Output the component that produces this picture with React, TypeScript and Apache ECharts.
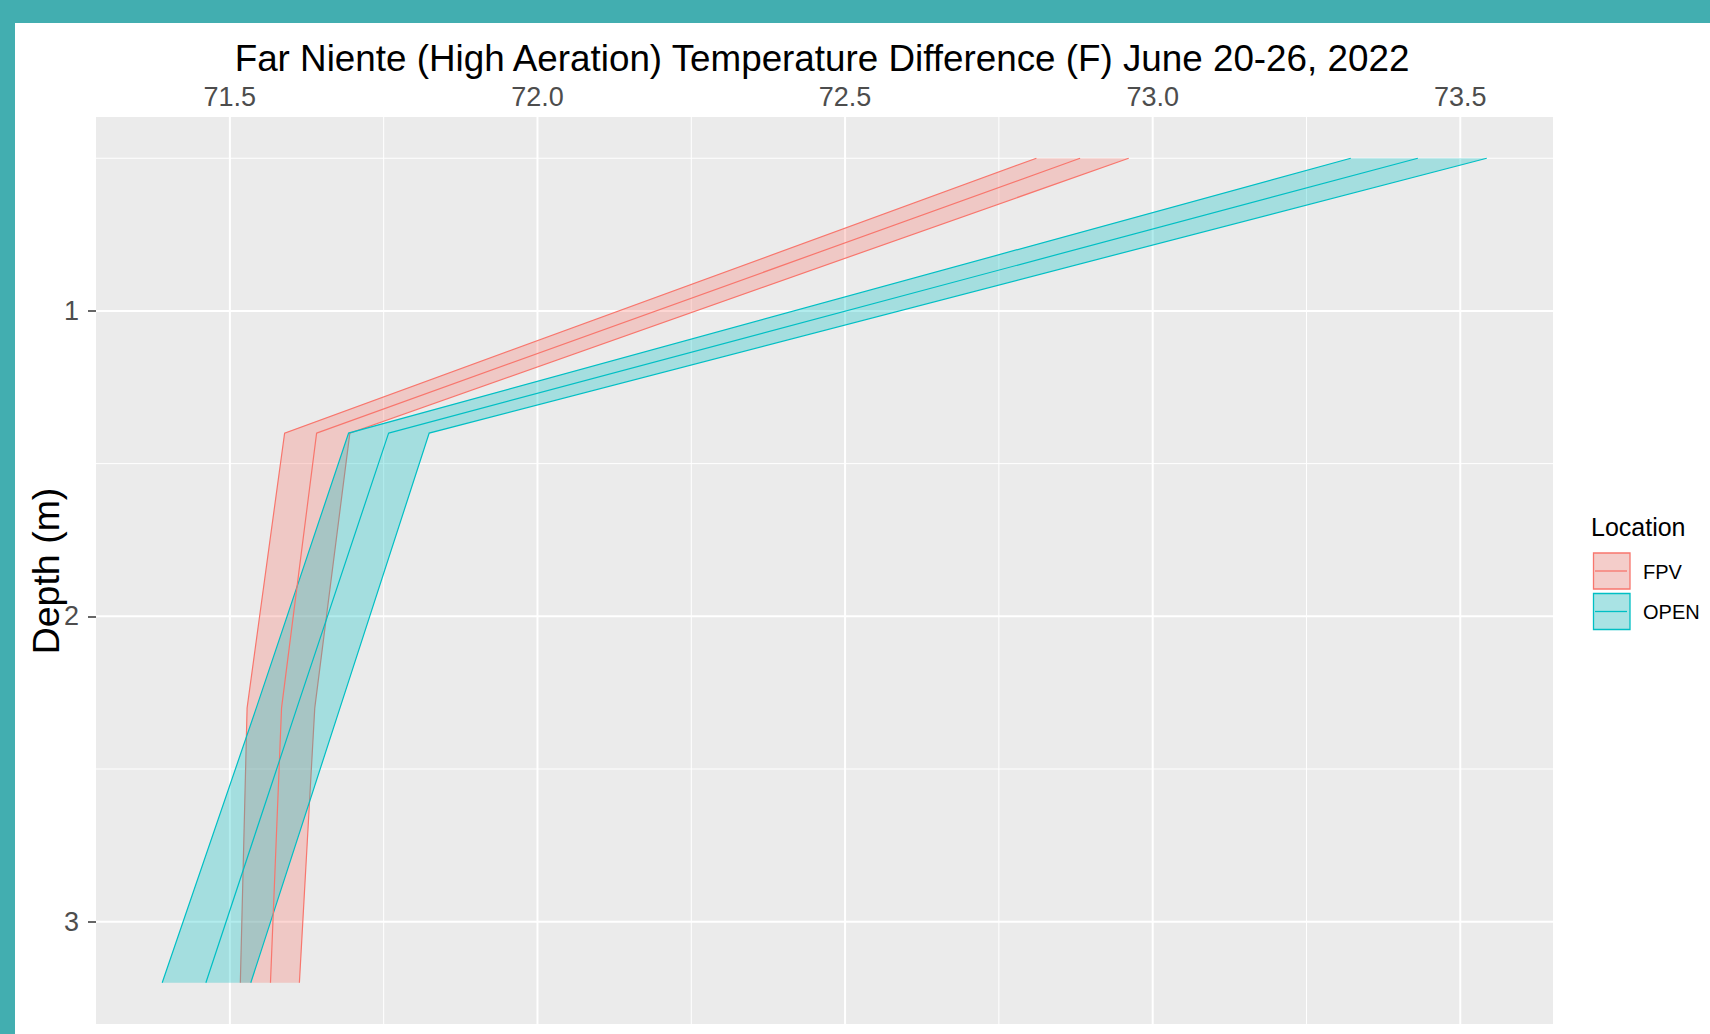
import React, { useEffect, useRef } from "react";
import * as echarts from "echarts";

// ---- data ----
const depths = [0.5, 1.4, 2.3, 3.2];
const fpvLower = [72.811, 71.589, 71.528, 71.517];
const fpvMean = [72.882, 71.641, 71.584, 71.566];
const fpvUpper = [72.961, 71.695, 71.638, 71.613];
const openLower = [73.322, 71.693, 71.543, 71.39];
const openMean = [73.431, 71.758, 71.609, 71.461];
const openUpper = [73.543, 71.824, 71.679, 71.534];

const xTicks = [71.5, 72.0, 72.5, 73.0, 73.5];
const xMinor = [71.75, 72.25, 72.75, 73.25];
const yTicks = [1, 2, 3];
const yMinor = [0.5, 1.5, 2.5];

const X_MIN = 71.2824;
const X_MAX = 73.6507;
const Y_MIN = 0.365;
const Y_MAX = 3.335;

const FONT = "'Liberation Sans', Arial, sans-serif";
const FPV_COLOR = "#F8766D";
const OPEN_COLOR = "#00BFC4";
const FPV_FILL = "rgba(248,118,109,0.3)";
const OPEN_FILL = "rgba(0,191,196,0.3)";
const TEAL = "#42aeb0";

function gridLines(vals: number[], dir: "v" | "h", width: number) {
  return {
    type: "custom",
    coordinateSystem: "cartesian2d",
    silent: true,
    z: 1,
    data: vals.map((v) => (dir === "v" ? [v, Y_MIN] : [X_MIN, v])),
    encode: { x: 0, y: 1 },
    renderItem: (params: any, api: any) => {
      const a =
        dir === "v" ? api.coord([api.value(0), Y_MIN]) : api.coord([X_MIN, api.value(1)]);
      const b =
        dir === "v" ? api.coord([api.value(0), Y_MAX]) : api.coord([X_MAX, api.value(1)]);
      return {
        type: "line",
        shape: { x1: a[0], y1: a[1], x2: b[0], y2: b[1] },
        style: { stroke: "#ffffff", lineWidth: width },
      };
    },
  };
}

function ribbon(lower: number[], upper: number[], color: string, fill: string, z: number) {
  return {
    type: "custom",
    coordinateSystem: "cartesian2d",
    silent: true,
    z,
    data: depths.map((d, i) => [lower[i], d, upper[i]]),
    encode: { x: [0, 2], y: 1 },
    renderItem: (params: any, api: any) => {
      if (params.dataIndex !== 0) return null;
      const lo = depths.map((d, i) => api.coord([lower[i], d]));
      const up = depths.map((d, i) => api.coord([upper[i], d]));
      return {
        type: "group",
        children: [
          {
            type: "polygon",
            shape: { points: [...lo, ...up.slice().reverse()] },
            style: { fill, stroke: null, lineWidth: 0 },
          },
          {
            type: "polyline",
            shape: { points: lo },
            style: { stroke: color, lineWidth: 1.2, fill: null },
          },
          {
            type: "polyline",
            shape: { points: up },
            style: { stroke: color, lineWidth: 1.2, fill: null },
          },
        ],
      };
    },
  };
}

function meanLine(vals: number[], color: string) {
  return {
    type: "line",
    data: depths.map((d, i) => [vals[i], d]),
    symbol: "none",
    showSymbol: false,
    silent: true,
    z: 4,
    itemStyle: { color },
    lineStyle: { color, width: 1.2 },
  };
}

function txt(
  text: string,
  x: number,
  y: number,
  fontSize: number,
  fill: string,
  align: string,
  rotation = 0
) {
  return {
    type: "text",
    x,
    y,
    rotation,
    silent: true,
    z: 10,
    style: {
      text,
      fill,
      fontSize,
      fontFamily: FONT,
      align,
      verticalAlign: "middle",
      textAlign: align,
      textVerticalAlign: "middle",
    },
  };
}

function legendKey(y: number, color: string, fill: string) {
  return [
    {
      type: "rect",
      shape: { x: 1593.5, y, width: 36.5, height: 36 },
      style: { fill: "#f2f2f2", stroke: null },
      z: 10,
    },
    {
      type: "rect",
      shape: { x: 1593.5, y, width: 36.5, height: 36 },
      style: { fill, stroke: color, lineWidth: 1.3 },
      z: 11,
    },
    {
      type: "line",
      shape: { x1: 1595, y1: y + 18, x2: 1627, y2: y + 18 },
      style: { stroke: color, lineWidth: 1.3 },
      z: 12,
    },
  ];
}

export default function App() {
  const ref = useRef<HTMLDivElement>(null);
  useEffect(() => {
    if (!ref.current) return;
    const chart = echarts.init(ref.current, undefined, { renderer: "svg" });
    const option: any = {
      animation: false,
      backgroundColor: "#ffffff",
      grid: {
        left: 96,
        top: 117,
        width: 1457,
        height: 907,
        show: true,
        backgroundColor: "#ebebeb",
        borderWidth: 0,
        containLabel: false,
        outerBoundsMode: "none",
      },
      xAxis: {
        type: "value",
        position: "top",
        min: X_MIN,
        max: X_MAX,
        axisLine: { show: false },
        axisTick: { show: false },
        splitLine: { show: false },
        axisLabel: {
          customValues: xTicks,
          formatter: (v: number) => v.toFixed(1),
          fontSize: 27,
          fontFamily: FONT,
          color: "#4d4d4d",
          margin: 7,
          hideOverlap: false,
        },
      },
      yAxis: {
        type: "value",
        inverse: true,
        min: Y_MIN,
        max: Y_MAX,
        axisLine: { show: false },
        axisTick: {
          show: true,
          customValues: yTicks,
          length: 8,
          lineStyle: { color: "#333333", width: 1.5 },
        },
        splitLine: { show: false },
        axisLabel: {
          customValues: yTicks,
          formatter: (v: number) => String(v),
          fontSize: 27,
          fontFamily: FONT,
          color: "#4d4d4d",
          margin: 17,
          hideOverlap: false,
        },
      },
      series: [
        gridLines(xMinor, "v", 1),
        gridLines(yMinor, "h", 1),
        gridLines(xTicks, "v", 2),
        gridLines(yTicks, "h", 2),
        ribbon(fpvLower, fpvUpper, FPV_COLOR, FPV_FILL, 2),
        ribbon(openLower, openUpper, OPEN_COLOR, OPEN_FILL, 3),
        meanLine(fpvMean, FPV_COLOR),
        meanLine(openMean, OPEN_COLOR),
      ],
      graphic: [
        {
          type: "rect",
          shape: { x: 0, y: 0, width: 1710, height: 23 },
          style: { fill: TEAL },
          z: 20,
          silent: true,
        },
        {
          type: "rect",
          shape: { x: 0, y: 0, width: 15, height: 1034 },
          style: { fill: TEAL },
          z: 20,
          silent: true,
        },
        txt(
          "Far Niente (High Aeration) Temperature Difference (F) June 20-26, 2022",
          822,
          58,
          36.8,
          "#000000",
          "center"
        ),
        txt("Depth (m)", 46, 571, 37.5, "#000000", "center", Math.PI / 2),
        txt("Location", 1591, 527, 25, "#000000", "left"),
        ...legendKey(553, FPV_COLOR, FPV_FILL),
        ...legendKey(593.5, OPEN_COLOR, OPEN_FILL),
        txt("FPV", 1643, 572, 20, "#000000", "left"),
        txt("OPEN", 1643, 612, 20, "#000000", "left"),
      ],
    };
    chart.setOption(option);
    return () => {
      chart.dispose();
    };
  }, []);
  return (
    <div
      ref={ref}
      style={{
        position: "fixed",
        left: 0,
        top: 0,
        width: 1710,
        height: 1034,
        background: "#ffffff",
      }}
    />
  );
}
